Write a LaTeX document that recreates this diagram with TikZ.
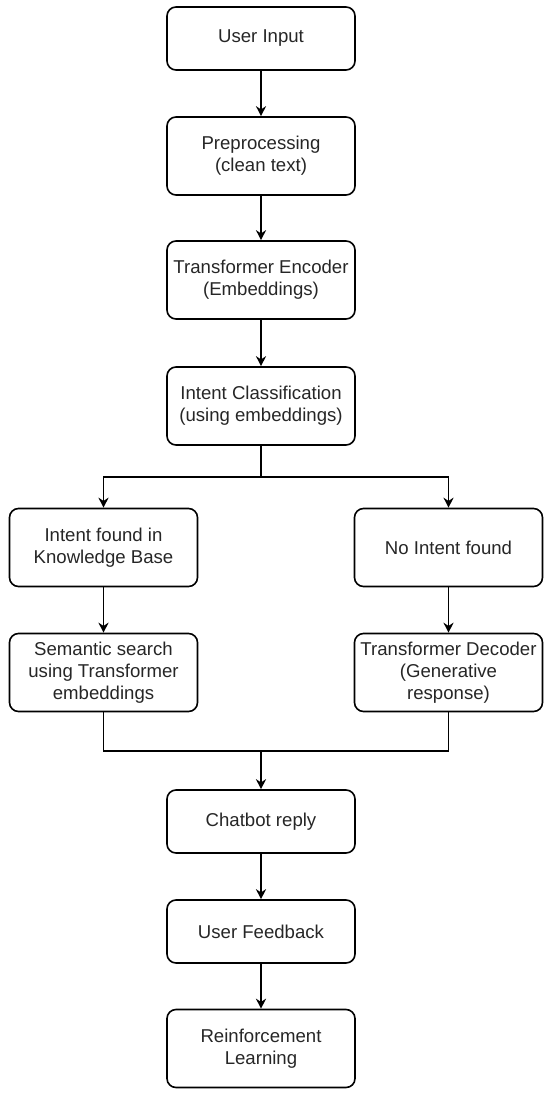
\documentclass[tikz,border=0pt]{standalone}
\usepackage{fontspec}
\setmainfont{Liberation Sans}
\usetikzlibrary{arrows.meta}
\begin{document}
\begin{tikzpicture}[x=0.5pt,y=-0.5pt,
  box/.style={draw=black, rounded corners=4.5pt, line width=0.8pt, minimum width=94pt,
    align=center, inner sep=0pt, text=black!85, font=\fontsize{9.3}{10.9}\selectfont},
  tall/.style={box, minimum height=39pt},
  short/.style={box, minimum height=31.5pt},
  conn/.style={line width=0.8pt},
  arr/.style={conn, -{Stealth[length=5pt,width=5pt]}}]
\useasboundingbox (0,0) rectangle (550,1096);
\node[short] (in) at (261,38.5) {User Input};
\node[tall] (pre) at (261,156) {Preprocessing\\(clean text)};
\node[tall] (enc) at (261,280) {Transformer Encoder\\(Embeddings)};
\node[tall] (cls) at (261,406) {Intent Classification\\(using embeddings)};
\node[tall] (kb) at (103.5,547.5) {Intent found in\\Knowledge Base};
\node[tall] (no) at (448.5,547.5) {No Intent found};
\node[tall] (sem) at (103.5,672.5) {Semantic search\\using Transformer\\embeddings};
\node[tall] (dec) at (448.5,672.5) {Transformer Decoder\\(Generative\\response)};
\node[short] (reply) at (261,821.5) {Chatbot reply};
\node[short] (fb) at (261,931.5) {User Feedback};
\node[tall] (rl) at (261,1048.5) {Reinforcement\\Learning};
\coordinate (sp) at (261,477);
\coordinate (mg) at (261,751);
\draw[arr] (in) -- (pre);
\draw[arr] (pre) -- (enc);
\draw[arr] (enc) -- (cls);
\draw[conn] (cls) -- (sp);
\draw[arr] (sp) -| (kb);
\draw[arr] (sp) -| (no);
\draw[arr] (kb) -- (sem);
\draw[arr] (no) -- (dec);
\draw[conn] (sem) |- (mg);
\draw[conn] (dec) |- (mg);
\draw[arr] (mg) -- (reply);
\draw[arr] (reply) -- (fb);
\draw[arr] (fb) -- (rl);
\end{tikzpicture}
\end{document}
